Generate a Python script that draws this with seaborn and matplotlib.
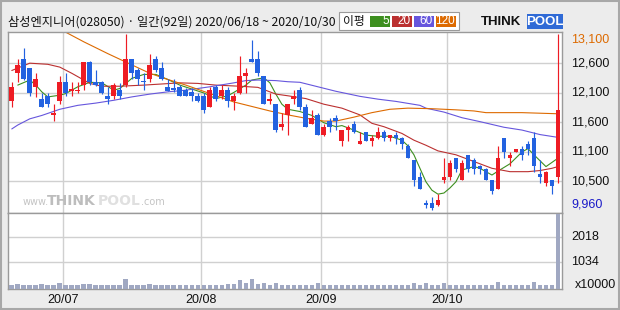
import numpy as np
import pandas as pd
import matplotlib
matplotlib.use("Agg")
import matplotlib.pyplot as plt
import seaborn as sns
from matplotlib.patches import Rectangle

# ---------------- data ----------------
title = "삼성엔지니어(028050) · 일간(92일) 2020/06/18 ~ 2020/10/30"

opens = [11900, 12400, 12650, 12500, 12150, 11950, 12000, 11650, 11900, 12250,
         12080, 12080, 12200, 12600, 12250, 12250, 12000, 12000, 12100, 12200,
         12650, 12450, 12270, 12300, 12650, 12500, 12150, 12140, 12150, 12100,
         12070, 12000, 12000, 11800, 12150, 12000, 12100, 11900, 12050, 12350,
         12650, 12650, 12350, 11900, 11850, 11450, 11650, 11950, 12100, 11800,
         11500, 11650, 11300, 11550, 11600, 11200, 11400, 11500, 11150, 11350,
         11200, 11250, 11350, 11250, 11300, 11250, 11100, 10850, 10550, 10100,
         10100, 10050, 10500, 10550, 10900, 10500, 10950, 10850, 10750, 10700,
         10500, 10350, 11250, 10900, 11000, 11050, 11150, 11250, 10600, 10450,
         10500, 10550]
highs = [12250, 12650, 12850, 12500, 12400, 12050, 12050, 11850, 12350, 12400,
         12250, 12250, 12600, 12620, 12450, 12270, 12150, 12220, 12220, 13100,
         12650, 12500, 12400, 12750, 12700, 12600, 12300, 12300, 12200, 12130,
         12130, 12050, 12050, 12150, 12200, 12200, 12150, 12050, 12700, 12500,
         13000, 12800, 12350, 12050, 11850, 11700, 11850, 12100, 12150, 11850,
         11750, 11700, 11500, 11600, 11650, 11400, 11480, 11550, 11350, 11350,
         11300, 11450, 11400, 11300, 11350, 11260, 11150, 10850, 10650, 10150,
         10200, 10250, 10900, 10850, 10900, 10850, 10950, 10900, 10760, 10720,
         10500, 11100, 11250, 11000, 11050, 11100, 11200, 11350, 10850, 10660,
         10510, 13100]
lows = [11800, 12250, 12280, 12000, 11980, 11800, 11800, 11550, 11850, 12000,
        12000, 12050, 12100, 12200, 12180, 12040, 11850, 11950, 11950, 12150,
        12300, 12200, 12100, 12250, 12430, 12280, 12080, 12070, 12000, 11990,
        11900, 11890, 11700, 11800, 11900, 11950, 11800, 11750, 12030, 12050,
        12600, 12350, 11850, 11850, 11350, 11400, 11300, 11850, 11750, 11450,
        11490, 11300, 11290, 11350, 11400, 11100, 11200, 11340, 11140, 11200,
        11100, 11240, 11200, 11200, 11150, 11050, 10900, 10400, 10350, 10000,
        9960, 10040, 10450, 10500, 10650, 10500, 10650, 10600, 10600, 10500,
        10250, 10350, 10900, 10750, 11000, 10850, 10950, 10650, 10450, 10400,
        10250, 10450]
closes = [12150, 12550, 12300, 12050, 12300, 11800, 11850, 11700, 12250, 12050,
          12120, 12110, 12600, 12250, 12200, 12050, 11950, 12200, 12000, 12650,
          12400, 12300, 12250, 12550, 12450, 12300, 12080, 12100, 12000, 12000,
          12000, 11900, 11750, 12100, 11950, 12100, 11900, 12000, 12350, 12400,
          12600, 12400, 11850, 11950, 11400, 11500, 11850, 12000, 11800, 11450,
          11600, 11300, 11450, 11450, 11550, 11400, 11450, 11350, 11200, 11200,
          11250, 11350, 11250, 11300, 11250, 11150, 10900, 10500, 10350, 10050,
          10000, 10150, 10550, 10800, 10700, 10800, 10700, 10700, 10700, 10500,
          10300, 10900, 11000, 10950, 11050, 10950, 11050, 10750, 10550, 10650,
          10400, 11750]
# volume, unit x10000 shares
volumes = [145, 184, 145, 145, 145, 184, 118, 145, 223, 145,
           118, 157, 184, 184, 145, 118, 118, 118, 118, 380,
           145, 118, 118, 184, 157, 157, 118, 118, 145, 145,
           145, 145, 145, 145, 145, 145, 184, 184, 341, 197,
           380, 184, 223, 157, 223, 145, 118, 144, 118, 157,
           118, 197, 118, 144, 157, 157, 157, 118, 144, 118,
           118, 118, 157, 118, 118, 118, 157, 197, 157, 197,
           118, 118, 197, 118, 118, 118, 118, 118, 118, 118,
           157, 275, 157, 118, 118, 118, 118, 236, 157, 118,
           157, 2930]

# moving averages (candle index, price)
ma5_idx = [1, 3, 4, 5, 6, 8, 9, 11, 13, 15, 17, 18, 20, 22, 24, 26, 28, 30, 32, 34,
           36, 37, 39, 40, 42, 43, 44, 45, 46, 48, 50, 52, 54, 55, 57, 59, 61, 63, 65, 66,
           67, 68, 69, 70, 71, 72, 73, 74, 75, 77, 78, 80, 81, 83, 85, 86, 87, 89, 91]
ma5_val = [12190, 12280, 12190, 12070, 11980, 12010, 12040, 12160, 12240, 12230,
           12100, 12130, 12310, 12380, 12380, 12290, 12190, 12120, 12050, 11950,
           12000, 12060, 12190, 12280, 12320, 12230, 12030, 11850, 11760, 11720,
           11650, 11520, 11450, 11470, 11390, 11300, 11280, 11280, 11210, 11110,
           10950, 10710, 10470, 10320, 10250, 10270, 10360, 10470, 10680, 10740,
           10710, 10590, 10660, 10790, 11000, 11060, 10950, 10740, 10890]
ma20_idx = [0, 3, 6, 8, 10, 13, 15, 18, 22, 28, 31, 34, 38, 41, 44, 46, 49, 52, 55, 58,
            60, 62, 65, 67, 69, 71, 74, 77, 80, 83, 86, 88, 90, 91]
ma20_val = [12450, 12580, 12560, 12510, 12400, 12220, 12170, 12170, 12190, 12230,
            12220, 12190, 12170, 12150, 12030, 12000, 11950, 11850, 11780, 11660,
            11510, 11450, 11330, 11210, 11120, 11020, 10950, 10830, 10710, 10650,
            10650, 10670, 10710, 10740]
ma60_idx = [0, 1, 3, 5, 8, 11, 14, 17, 20, 23, 26, 29, 33, 37, 39, 41, 44, 46, 48, 51,
            54, 58, 61, 64, 68, 69, 72, 75, 78, 82, 85, 88, 91]
ma60_val = [11410, 11480, 11590, 11650, 11760, 11830, 11870, 11920, 11980, 12030,
            12070, 12100, 12160, 12230, 12270, 12280, 12270, 12250, 12240, 12160,
            12080, 11990, 11940, 11900, 11830, 11780, 11710, 11610, 11540, 11440,
            11390, 11310, 11260]
ma120_idx = [9, 12, 16, 20, 23, 26, 29, 33, 37, 40, 43, 46, 49, 52, 54, 57, 60, 63, 66, 70,
             74, 77, 79, 85, 88, 91]
ma120_val = [13130, 12960, 12750, 12550, 12400, 12290, 12190, 12040, 11890, 11810,
             11730, 11660, 11600, 11550, 11550, 11620, 11700, 11760, 11780, 11770,
             11750, 11730, 11700, 11700, 11690, 11680]

month_start_idx = [9, 32, 52, 73]
month_labels = ["20/07", "20/08", "20/09", "20/10"]
price_tick_labels = ["12,600", "12,100", "11,600", "11,100", "10,500"]
vol_ticks = [1034, 2018]
vol_unit = "x10000"
legend_periods = ["5", "20", "60", "120"]

# ---------------- style ----------------
sns.set_style("white")
plt.rcParams["font.family"] = ["Noto Sans CJK KR", "DejaVu Sans"]

RED = "#ee1c24"
BLUE = "#2362e0"
VOLC = "#a0a8c2"
GRID = "#d0d0d0"
MA_COLORS = ["#3d8f1f", "#bb3030", "#6656dd", "#dd6a00"]
BG = "#ececec"

W, H = 620, 310
fig = plt.figure(figsize=(W / 100, H / 100), dpi=100, facecolor=BG)

def fx(px):
    return px / W

def fy(py):
    return 1 - py / H

L, R = 8, 562
T1, B1, B2 = 31.7, 212.7, 288.5
ax = fig.add_axes([fx(L), fy(B1), fx(R) - fx(L), fy(T1) - fy(B1)])
axv = fig.add_axes([fx(L), fy(B2), fx(R) - fx(L), fy(B1) - fy(B2)])
ax.set_facecolor("white")
axv.set_facecolor("white")

n = len(closes)
idx = np.arange(n)
o = np.array(opens, float)
c = np.array(closes, float)
hi = np.array(highs, float)
lo = np.array(lows, float)
cols = np.where(c >= o, RED, BLUE)
xlo, xhi = -0.63, n - 1 + 0.67

pmin, pmax = lo.min(), hi.max()
grid_levels = np.linspace(pmin, pmax, 7)[1:-1][::-1]
bounds = [m - 0.5 for m in month_start_idx]

# moving averages (drawn under candles)
for xs, ys, colr in zip([ma5_idx, ma20_idx, ma60_idx, ma120_idx],
                        [ma5_val, ma20_val, ma60_val, ma120_val], MA_COLORS):
    sns.lineplot(x=xs, y=ys, ax=ax, color=colr, lw=0.8, zorder=2, sort=False)

# candles
ax.vlines(idx, lo, hi, colors=cols, lw=0.85, zorder=3)
ax.bar(idx, np.abs(c - o), bottom=np.minimum(o, c), width=0.8, color=cols,
       linewidth=0, zorder=4)

ax.set_ylim(pmin - 40, pmax + 40)
ax.set_xlim(xlo, xhi)
ax.set_xlabel("")
ax.set_ylabel("")
# grid through the axes' own ticks (labels hidden, drawn as text below)
ax.set_yticks(grid_levels)
ax.set_xticks(bounds)
ax.tick_params(axis="both", length=0, labelleft=False, labelbottom=False,
               labelright=False, labeltop=False)
ax.set_axisbelow(True)
ax.grid(True, color=GRID, lw=1.0, ls="-")

tr = ax.get_yaxis_transform()
lab_font = dict(family=["Liberation Sans", "DejaVu Sans"], fontsize=9)
for g, t in zip(grid_levels, price_tick_labels):
    ax.text(1.0165, g, t, transform=tr, ha="left", va="center", color="#111111", **lab_font)
ax.text(1.0165, pmax, f"{int(pmax):,}", transform=tr, ha="left", va="top",
        color="#dd6a00", **lab_font)
ax.text(1.0165, pmin, f"{int(pmin):,}", transform=tr, ha="left", va="bottom",
        color="#1a1ac8", **lab_font)

# watermark
def axfx(px):
    return (px - L) / (R - L)

wy = 0.042
ax.text(axfx(23), wy, "www.", transform=ax.transAxes, fontsize=7, color="#c4c4c4",
        family="DejaVu Sans", va="baseline", zorder=1)
ax.text(axfx(47), wy, "THINK", transform=ax.transAxes, fontsize=10, fontweight="bold",
        color="#bdbdbd", family="DejaVu Sans", va="baseline", zorder=1)
ax.text(axfx(98), wy, "POOL", transform=ax.transAxes, fontsize=10, fontweight="bold",
        color="#e0e0e0", family="DejaVu Sans", va="baseline", zorder=1)
ax.text(axfx(141), wy, ".com", transform=ax.transAxes, fontsize=7, color="#c4c4c4",
        family="DejaVu Sans", va="baseline", zorder=1)

# volume
vdf = pd.DataFrame({"i": idx, "v": volumes})
sns.barplot(data=vdf, x="i", y="v", ax=axv, native_scale=True, color=VOLC,
            saturation=1, width=0.78, errorbar=None, linewidth=0, zorder=3)
axv.set_xlim(xlo, xhi)
axv.set_ylim(0, 2980)
axv.set_xlabel("")
axv.set_ylabel("")
axv.set_yticks(vol_ticks)
axv.set_xticks(bounds)
axv.set_xticklabels(month_labels)
axv.tick_params(axis="x", length=0, pad=4, labelsize=9, labelcolor="#111111")
axv.tick_params(axis="y", length=0, labelleft=False, labelright=False)
axv.set_axisbelow(True)
axv.grid(True, color=GRID, lw=1.0, ls="-")
for tl in axv.get_xticklabels():
    tl.set_family(["Liberation Sans", "DejaVu Sans"])
trv = axv.get_yaxis_transform()
for v in vol_ticks:
    axv.text(1.0165, v, str(v), transform=trv, ha="left", va="center", color="#111111", **lab_font)
axv.text(1.023, 0.04, vol_unit, transform=axv.transAxes, ha="left", va="center",
         color="#111111", **lab_font)

for a in (ax, axv):
    for s in a.spines.values():
        s.set_color("#9a9a9a")
        s.set_linewidth(1.0)

# title
fig.text(fx(8), fy(22), title, ha="left", va="center", fontsize=8.8, color="#111111")

# legend box
fig.patches.append(Rectangle((fx(339), fy(30)), fx(120), 18 / H, transform=fig.transFigure,
                             facecolor="white", edgecolor="#9a9a9a", lw=0.8))
fig.text(fx(343), fy(21.5), "이평", ha="left", va="center", fontsize=8.5, color="#111111")
box_x = [370, 392, 414, 436]
for bx, lbl, colr in zip(box_x, legend_periods, MA_COLORS):
    fig.patches.append(Rectangle((fx(bx), fy(26.7)), fx(20), 10.7 / H, transform=fig.transFigure,
                                 facecolor=colr, edgecolor="none"))
    fig.text(fx(bx + 19), fy(21.5), lbl, ha="right", va="center", fontsize=8.5, color="white",
             family=["Liberation Sans", "DejaVu Sans"])

# logo
fig.text(fx(481), fy(22), "THINK", ha="left", va="center", fontsize=9.5, fontweight="bold",
         color="#111111", family=["Liberation Sans", "DejaVu Sans"])
fig.patches.append(Rectangle((fx(527), fy(29)), fx(36), 15 / H, transform=fig.transFigure,
                             facecolor="#2f6ad6", edgecolor="none"))
fig.text(fx(545), fy(22), "POOL", ha="center", va="center", fontsize=9.5, fontweight="bold",
         color="white", family=["Liberation Sans", "DejaVu Sans"])

# outer frame
fig.patches.append(Rectangle((0.002, 0.004), 0.996, 0.992, transform=fig.transFigure,
                             fill=False, edgecolor="#a8a8a8", lw=1.5))

fig.savefig("out.png", dpi=100, facecolor=BG)
